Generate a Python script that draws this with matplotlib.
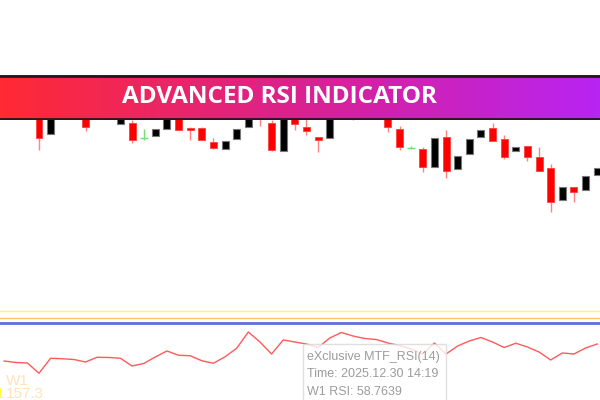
import numpy as np
import matplotlib
matplotlib.use("Agg")
import matplotlib.pyplot as plt
from matplotlib.colors import LinearSegmentedColormap
from matplotlib.patches import Rectangle

# candles (oldest -> newest), price in chart units
opens = [200, 166, 190, 195, 190, 185, 192, 176, 177, 162.3,
         164, 171, 185, 171.7, 171.7, 158, 151.3, 161, 173.3, 195,
         177.5, 149, 184, 173.3, 163.3, 161.7, 188, 190, 186, 192,
         185, 170.7, 152.3, 151, 132.7, 163, 130.7, 146, 162.7, 172,
         160.7, 149, 154, 143, 132, 100, 112.7, 110, 124.7]
highs = [205, 196, 200, 205, 195, 195, 200, 186, 180, 171.5,
         171, 185, 188, 172.7, 173.3, 162.3, 159, 171, 190, 198,
         180, 188, 187, 182, 163.3, 190, 200, 198, 194, 200,
         190, 174, 154, 152.7, 161.7, 170, 144.3, 160.7, 170, 177,
         165, 152.7, 154, 153.3, 136, 113.3, 112.7, 124.3, 131.7]
lows = [150, 166, 185, 188, 169, 182, 186, 176, 157.5, 160,
        164, 171, 170, 160, 159.7, 150.7, 151.3, 161, 173.3, 174.3,
        149.5, 149, 170, 165, 148.3, 161.7, 183, 180.5, 180.5, 184,
        168.3, 150, 150.7, 128.3, 132.7, 121.7, 130.7, 146, 162.7, 159.3,
        141.3, 149, 139.3, 129, 88.3, 100, 97.7, 110, 124.7]
closes = [162, 192, 195, 200, 173, 192, 190, 181, 160.5, 162.3,
          171, 182, 170.3, 170.3, 159.7, 152, 159, 171, 188, 184,
          150, 185, 175.7, 169.3, 159.7, 186, 195, 186, 190, 187,
          173.3, 152.7, 152.3, 133.3, 161.7, 129.3, 144.3, 160.7, 170, 159.3,
          143, 152.7, 143.3, 129, 97.7, 113.3, 108, 124.3, 131.7]

# W1 RSI line, starts 3 bars before the first visible candle
rsi_start = -3
rsi_values = [40.0, 38.8, 38.4, 30.2, 42.2, 41.8, 41.2, 39.2, 43.0, 42.8,
              42.2, 36.0, 38.0, 43.2, 48.0, 44.6, 44.2, 40.2, 38.2, 43.4,
              50.2, 63.2, 55.2, 45.6, 56.8, 55.2, 53.6, 50.8, 58.4, 62.8,
              60.0, 58.0, 57.2, 54.4, 52.4, 49.6, 45.6, 54.4, 45.6, 52.0,
              56.0, 58.8, 55.2, 50.8, 54.2, 51.2, 47.2, 40.8, 46.4, 45.6,
              50.4, 53.6]
levels = [80, 74.2, 70.2]
level_colors = ["#FFFF4D", "#FFC861", "#5C6FE6"]
level_widths = [1, 1, 2]

title = "ADVANCED RSI INDICATOR"
tooltip = ["eXclusive MTF_RSI(14)", "Time: 2025.12.30 14:19", "W1 RSI: 58.7639"]

fig = plt.figure(figsize=(6, 4), dpi=100)
fig.patch.set_facecolor("white")

# price panel
ax = fig.add_axes([0, 0.25, 1, 0.75])
ax.set_xlim(-3.353, 48.24)
ax.set_ylim(0, 300)
ax.axis("off")

x = np.arange(len(opens))
o = np.array(opens); c = np.array(closes)
h = np.array(highs); l = np.array(lows)
up = c > o
down = c < o
doji = c == o

ax.vlines(x[down], l[down], h[down], color="#FF3030", alpha=0.6, lw=1, zorder=1)
ax.bar(x[down], o[down] - c[down], bottom=c[down], width=0.6,
       color="#FF0000", edgecolor="#FF4040", lw=0.6, zorder=2)
ax.bar(x[up], c[up] - o[up], bottom=o[up], width=0.6,
       color="black", edgecolor="#777777", lw=0.8, zorder=2)
ax.vlines(x[doji], l[doji], h[doji], color="#70E070", lw=1, zorder=2)
ax.hlines(c[doji], x[doji] - 0.35, x[doji] + 0.35, color="#70E070", lw=1, zorder=2)

# RSI panel
ax2 = fig.add_axes([0, 0, 1, 0.25])
ax2.set_xlim(-3.353, 48.24)
ax2.set_ylim(8.8, 88.8)
ax2.axis("off")
for lv, col, lw in zip(levels, level_colors, level_widths):
    ax2.axhline(lv, color=col, lw=lw, zorder=1)
rx = np.arange(len(rsi_values)) + rsi_start
ax2.plot(rx, rsi_values, color="#FF5A5A", lw=1, zorder=3)

ax2.text(-2.8, 24, "W1", color="#FFE2BD", fontsize=11, family="Liberation Sans",
         va="center", ha="left")
ax2.text(-2.85, 13.5, "157.3", color="#FFE2BD", fontsize=11, family="Liberation Sans",
         va="center", ha="left")
ax2.text(-2.95, 13.5, "1", color="#FFFF40", fontsize=11, family="Liberation Sans",
         va="center", ha="right")

# tooltip box
fig.patches.append(Rectangle((0.505, -0.02), 0.238, 0.16, transform=fig.transFigure,
                             facecolor="white", edgecolor="#D8D8D8", lw=1,
                             alpha=0.8, zorder=2))
for k, line in enumerate(tooltip):
    fig.text(0.512, 0.108 - k * 0.0435, line, color="#9C9C9C", fontsize=9,
             family="Liberation Sans", va="center", ha="left", zorder=5)

# banner
bax = fig.add_axes([0, 280 / 400, 1, 45 / 400])
cmap = LinearSegmentedColormap.from_list("ban", ["#FF2A33", "#DB2190", "#B824F2"])
bax.imshow(np.linspace(0, 1, 300).reshape(1, -1), cmap=cmap, aspect="auto",
           extent=(0, 1, 0, 1))
bax.set_xlim(0, 1)
bax.set_ylim(0, 1)
bax.axhline(0.985, color="#2A1520", lw=2)
bax.axhline(0.015, color="#2A1520", lw=2)
bax.axis("off")
bax.text(0.465, 0.52, title, color="white", fontsize=17.5, fontweight="bold",
         family="Open Sans", ha="center", va="center")

fig.savefig("out.png", dpi=100, facecolor="white")
